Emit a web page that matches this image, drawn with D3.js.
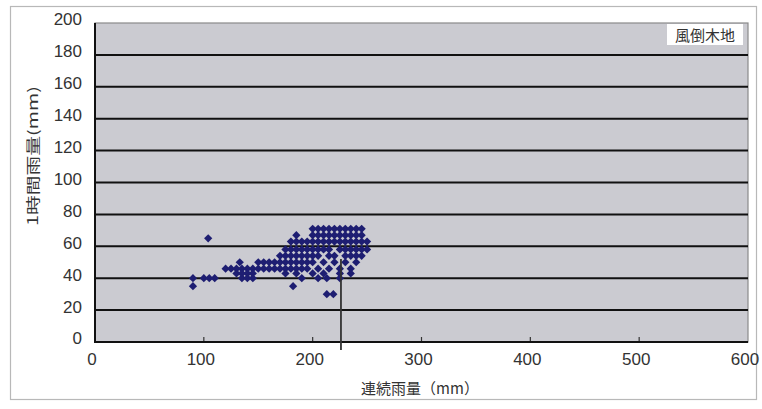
<!DOCTYPE html>
<html><head><meta charset="utf-8">
<script src="https://cdn.jsdelivr.net/npm/d3@7"></script>
<style>body{margin:0;background:#fff}svg{display:block}</style>
</head><body>
<svg id="c" width="762" height="409"></svg>
<script>
// ---- data ----
const xTicks = [0,100,200,300,400,500,600];
const yTicks = [0,20,40,60,80,100,120,140,160,180,200];
const xTitle = "連続雨量（mm）";
const yTitle = "1時間雨量(mm)";
const legendLabel = "風倒木地";
// scatter rows: [hourly rainfall, [cumulative rainfall values]]
const rows = [
  [71, [200,205,210,215,220,225,230,235,240,245]],
  [67, [185,200,205,210,215,220,225,230,235,240,245]],
  [63, [180,185,190,195,200,205,210,215,220,225,230,235,240,245,250]],
  [58, [175,180,185,190,195,200,205,210,215,225,230,235,240,245,250]],
  [54, [170,175,180,185,190,195,200,205,215,220,230,235,240,245]],
  [50, [133,150,155,160,165,170,175,180,185,190,195,200,210,220,230,240]],
  [46, [120,125,130,135,140,145,150,155,160,165,170,175,180,185,190,195,205,215,225,235]],
  [43, [130,135,140,145,175,185,200,210,225,235]],
  [40, [90,100,105,110,135,140,145,190,205,213,225]],
  [35, [90,182]],
  [30, [213,219]],
  [65, [104]]
];
const refLine = {x:226, y0:52, y1:-5};

const points = [];
rows.forEach(([y, xs]) => xs.forEach(x => points.push({x, y})));

// ---- chart ----
const svg = d3.select("#c");
const L = 95, R = 748, T = 23, B = 342;
const x = d3.scaleLinear().domain([0,600]).range([L,R]);
const y = d3.scaleLinear().domain([0,200]).range([B,T]);

// outer frame
svg.append("rect").attr("x",10.5).attr("y",6.5).attr("width",746).attr("height",393)
  .attr("fill","#fff").attr("stroke","#b8b8b8").attr("stroke-width",1.2);

// plot area
svg.append("rect").attr("x",L).attr("y",T).attr("width",R-L).attr("height",B-T)
  .attr("fill","#cbcbd1").attr("stroke","#8a8a8a").attr("stroke-width",1.2);

// gridlines
svg.append("g").selectAll("line").data(yTicks.filter(d=>d>0 && d<200)).join("line")
  .attr("x1",L).attr("x2",R).attr("y1",d=>y(d)).attr("y2",d=>y(d))
  .attr("stroke","#111").attr("stroke-width",2);

// x ticks (inside)
svg.append("g").selectAll("line").data(xTicks.filter(d=>d>0 && d<600)).join("line")
  .attr("x1",d=>x(d)).attr("x2",d=>x(d)).attr("y1",B).attr("y2",B-5)
  .attr("stroke","#333").attr("stroke-width",1.2);

// axis lines
svg.append("line").attr("x1",L).attr("x2",L).attr("y1",T).attr("y2",B+1).attr("stroke","#111").attr("stroke-width",2);
svg.append("line").attr("x1",L).attr("x2",R).attr("y1",B).attr("y2",B).attr("stroke","#111").attr("stroke-width",2);

// points
svg.append("g").selectAll("path").data(points).join("path")
  .attr("d", d3.symbol().type(d3.symbolSquare).size(34))
  .attr("transform", d=>`translate(${x(d.x)},${y(d.y)}) rotate(45)`)
  .attr("fill","#1e1e72");

// reference vertical line
svg.append("line").attr("x1",x(refLine.x)).attr("x2",x(refLine.x))
  .attr("y1",y(refLine.y0)).attr("y2",y(refLine.y1))
  .attr("stroke","#333").attr("stroke-width",1.8);

// tick labels
const font = "'Liberation Sans', Arial, sans-serif";
svg.append("g").selectAll("text").data(yTicks).join("text")
  .attr("x",82).attr("y",d=>y(d)-2).attr("text-anchor","end").attr("dominant-baseline","middle")
  .attr("font-family",font).attr("font-size",17).attr("fill","#333").text(d=>d);
svg.append("g").selectAll("text").data(xTicks).join("text")
  .attr("x",d=>x(d)-3).attr("y",365).attr("text-anchor","middle")
  .attr("font-family",font).attr("font-size",17).attr("fill","#333").text(d=>d);

// titles
const cjk = "'Noto Sans CJK JP', sans-serif";
svg.append("text").attr("x",420).attr("y",394).attr("text-anchor","middle")
  .attr("font-family",cjk).attr("font-size",15).attr("fill","#333").text(xTitle);
svg.append("text").attr("transform","translate(38,156) rotate(-90)").attr("text-anchor","middle")
  .attr("font-family",cjk).attr("font-size",14).attr("fill","#333")
  .attr("textLength",140).attr("lengthAdjust","spacingAndGlyphs").text(yTitle);

// legend box
svg.append("rect").attr("x",667).attr("y",24).attr("width",76).attr("height",21).attr("fill","#fff");
svg.append("text").attr("x",705).attr("y",41).attr("text-anchor","middle")
  .attr("font-family",cjk).attr("font-size",15).attr("fill","#333").text(legendLabel);
</script>
</body></html>
